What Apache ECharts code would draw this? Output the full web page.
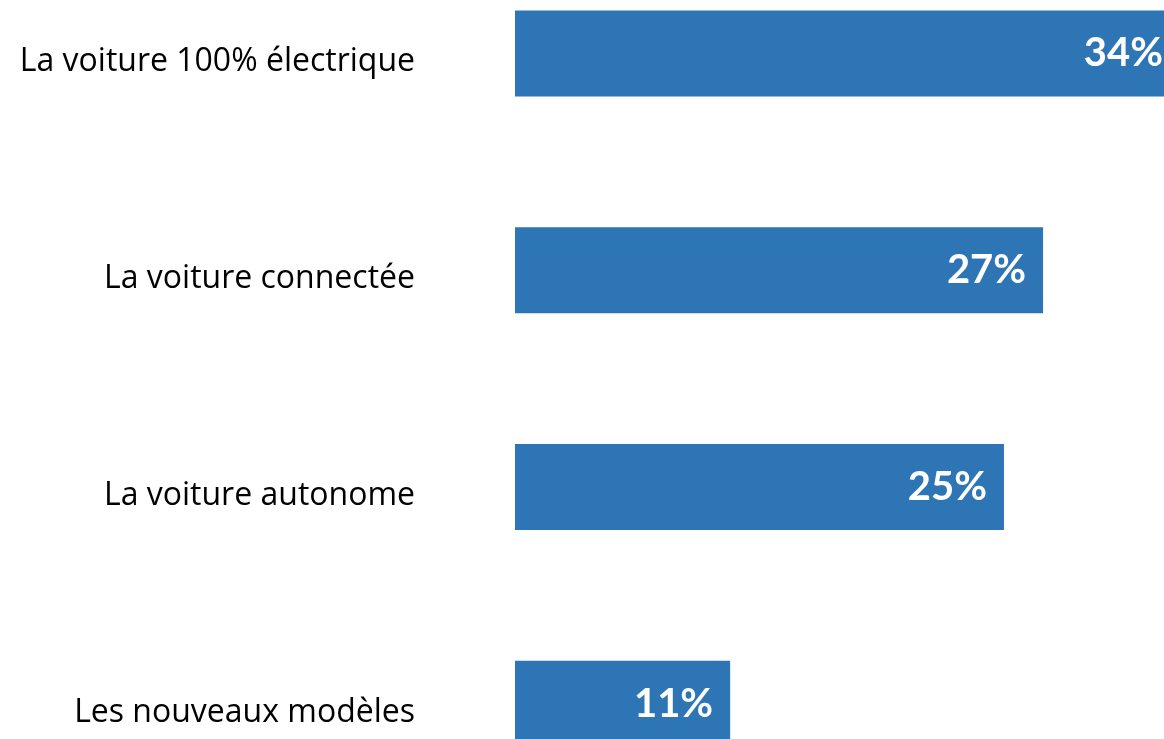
<!DOCTYPE html>
<html lang="fr">
<head>
  <meta charset="UTF-8">
  <title>Voiture</title>
  <script src="https://cdn.jsdelivr.net/npm/echarts@6/dist/echarts.min.js"></script>
  <style>
    html, body { margin: 0; padding: 0; background: #fff; }
    #chart { width: 1164px; height: 739px; }
  </style>
</head>
<body>
  <div id="chart"></div>
  <script>
    // catégories et valeurs (%)
    var categories = ['La voiture 100% électrique', 'La voiture connectée', 'La voiture autonome', 'Les nouveaux modèles'];
    var values = [34, 27, 25, 11];
    var xMax = 34;

    var myChart = echarts.init(document.getElementById('chart'));

    var option = {
      animation: false,
      grid: {
        left: 515,
        top: -55,
        width: 665,
        height: 867,
        outerBoundsMode: 'none',
        containLabel: false
      },
      xAxis: {
        type: 'value',
        min: 0,
        max: xMax,
        show: false
      },
      yAxis: {
        type: 'category',
        inverse: true,
        data: categories,
        axisLine: { show: false },
        axisTick: { show: false },
        axisLabel: {
          margin: 100,
          formatter: function (v) { return '{a|' + v + '}'; },
          rich: {
            a: {
              fontFamily: 'Open Sans',
              fontSize: 32,
              color: '#000',
              padding: [18, 0, 0, 0]
            }
          }
        }
      },
      series: [{
        type: 'bar',
        data: values,
        barWidth: 86,
        clip: false,
        itemStyle: { color: '#2E75B6' },
        label: {
          show: true,
          position: 'insideRight',
          distance: 17,
          formatter: '{c}%',
          fontFamily: 'Lato',
          fontWeight: 'bold',
          fontSize: 40,
          color: '#fff'
        }
      }]
    };

    myChart.setOption(option);
  </script>
</body>
</html>
